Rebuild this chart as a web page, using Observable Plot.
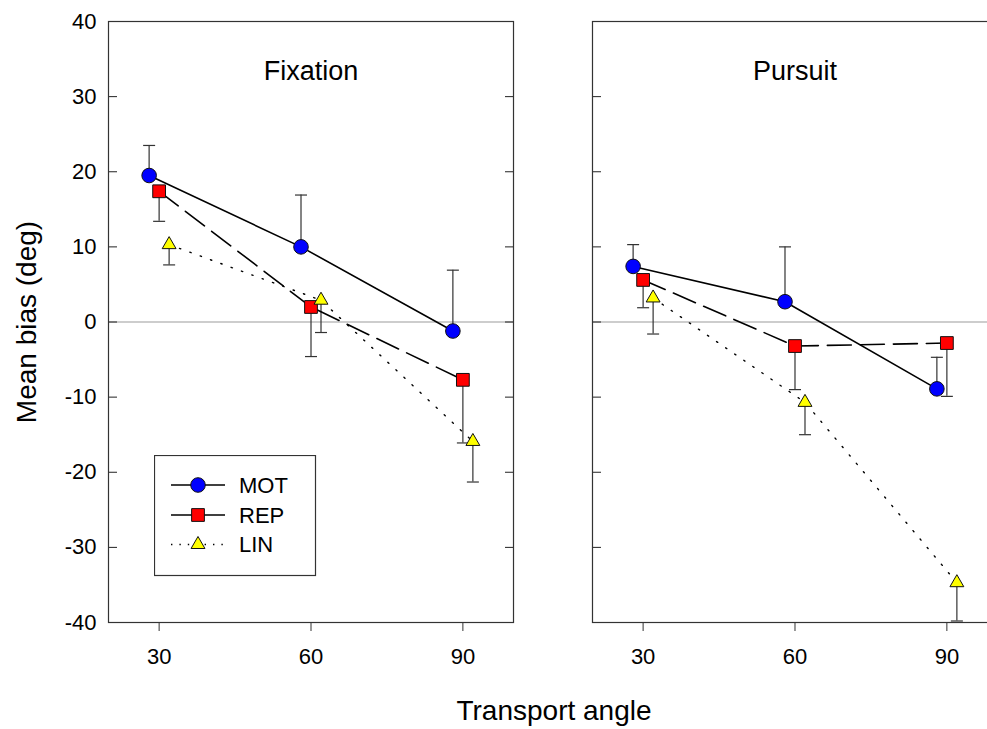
<!DOCTYPE html>
<html><head><meta charset="utf-8">
<script src="https://cdn.jsdelivr.net/npm/d3@7"></script>
<script src="https://cdn.jsdelivr.net/npm/@observablehq/plot@0.6"></script>
<style>
html,body{margin:0;padding:0;background:#fff;overflow:hidden;width:987px;height:729px;}
#wrap{position:relative;width:987px;height:729px;overflow:hidden;font-family:"Liberation Sans",Arial,sans-serif;color:#000;}
#chart{position:absolute;left:0;top:0;width:987px;height:729px;overflow:hidden;}
#chart svg{overflow:hidden !important;}
#xlabel{position:absolute;left:0;width:1108px;top:697px;font-size:28px;line-height:28px;text-align:center;white-space:nowrap;}
#ylabel{position:absolute;left:27px;top:321.5px;transform:translate(-50%,-50%) rotate(-90deg);font-size:28px;line-height:28px;white-space:nowrap;}
#legend{position:absolute;left:154px;top:455px;}
</style></head><body>
<div id="wrap"><div id="chart"></div><div id="xlabel">Transport angle</div><div id="ylabel">Mean bias (deg)</div></div>
<script>
// ---- data ----
const panels = ["Fixation", "Pursuit"];
const series = ["MOT", "REP", "LIN"];
const angles = [30, 60, 90];
const yTicks = [-40, -30, -20, -10, 0, 10, 20, 30, 40];

const fixationMOT = [19.5, 10.0, -1.2];
const fixationREP = [17.4, 2.0, -7.7];
const fixationLIN = [10.3, 2.9, -15.9];
const pursuitMOT  = [7.4, 2.7, -8.9];
const pursuitREP  = [5.6, -3.2, -2.8];
const pursuitLIN  = [3.2, -10.7, -34.7];

// one-sided error bars (MOT drawn upward, REP and LIN downward)
const fixationMOTerr = [4.0, 6.9, 8.1];
const fixationREPerr = [4.0, 6.6, 8.4];
const fixationLINerr = [2.7, 4.3, 5.4];
const pursuitMOTerr  = [2.9, 7.3, 4.2];
const pursuitREPerr  = [3.7, 5.8, 7.1];
const pursuitLINerr  = [4.8, 4.3, 5.1];

const means = {
  Fixation: {MOT: fixationMOT, REP: fixationREP, LIN: fixationLIN},
  Pursuit:  {MOT: pursuitMOT,  REP: pursuitREP,  LIN: pursuitLIN}
};
const errs = {
  Fixation: {MOT: fixationMOTerr, REP: fixationREPerr, LIN: fixationLINerr},
  Pursuit:  {MOT: pursuitMOTerr,  REP: pursuitREPerr,  LIN: pursuitLINerr}
};
const errDir = {MOT: 1, REP: -1, LIN: -1};

// ---- styles ----
const style = {
  MOT: {dx: -10, symbol: "circle", r: 7.3, fill: "#0000ff", dash: null, width: 1.6},
  REP: {dx: 0, symbol: "square", r: 7.2, fill: "#ff0000", dash: "24,9", width: 1.6},
  LIN: {dx: 10, symbol: "triangle", r: 5.15, fill: "#ffff00", dash: "1.4,9.6", width: 1.4}
};

const rows = [];
for (const p of panels) for (const s of series) angles.forEach((a, i) => {
  const m = means[p][s][i];
  rows.push({panel: p, series: s, angle: a, mean: m, end: m + errDir[s] * errs[p][s][i]});
});

const capSymbol = {draw(ctx, size) { const w = Math.sqrt(size / Math.PI); ctx.moveTo(-w, 0); ctx.lineTo(w, 0); }};
const fmt = d => String(d);

const marks = [
  Plot.ruleY([0], {stroke: "#bdbdbd", strokeWidth: 1.5}),
  Plot.axisY({anchor: "left", ticks: yTicks, tickSize: 9, dx: 9, tickFormat: () => "", facetAnchor: null, label: null, stroke: "#222"}),
  Plot.axisY({anchor: "right", ticks: yTicks, tickSize: 9, dx: -9, tickFormat: () => "", facetAnchor: null, label: null, stroke: "#222"}),
  Plot.axisY({anchor: "left", ticks: yTicks, tickSize: 0, tickPadding: 12, tickFormat: fmt, fontSize: 22, label: null}),
  Plot.axisX({anchor: "bottom", ticks: angles, tickSize: 9, tickPadding: 17, tickFormat: fmt, fontSize: 22, label: null, stroke: "#333"}),
  Plot.frame({stroke: "#333", strokeWidth: 1.2}),
  Plot.text(panels, {fx: d => d, text: d => d, frameAnchor: "top", dy: 39, fontSize: 27})
];
for (const s of series) {
  const st = style[s];
  const d = rows.filter(r => r.series === s);
  marks.push(Plot.ruleX(d, {fx: "panel", x: "angle", y1: "mean", y2: "end", dx: st.dx, stroke: "#333", strokeWidth: 1.2}));
  marks.push(Plot.dot(d, {fx: "panel", x: "angle", y: "end", dx: st.dx, symbol: capSymbol, r: 6, stroke: "#333", strokeWidth: 1.2, fill: "none"}));
}
for (const s of series) {
  const st = style[s];
  const d = rows.filter(r => r.series === s);
  marks.push(Plot.line(d, {fx: "panel", x: "angle", y: "mean", dx: st.dx, stroke: "#000", strokeWidth: st.width, strokeDasharray: st.dash}));
}
for (const s of series) {
  const st = style[s];
  const d = rows.filter(r => r.series === s);
  marks.push(Plot.dot(d, {fx: "panel", x: "angle", y: "mean", dx: st.dx, symbol: st.symbol, r: st.r, fill: st.fill, stroke: "#111", strokeWidth: 1}));
}

// the right-hand panel runs past the right edge of the picture, as in the original
const chart = Plot.plot({
  width: 987, height: 729,
  marginLeft: 108, marginRight: -10, marginTop: 21, marginBottom: 107,
  style: {fontFamily: "'Liberation Sans', Arial, sans-serif", fontSize: "22px", color: "#000", background: "#fff", overflow: "hidden"},
  fx: {domain: panels, paddingInner: 0.1632, paddingOuter: 0, round: false, axis: null},
  x: {domain: [20, 100]},
  y: {domain: [-40, 40]},
  marks
});
document.getElementById("chart").appendChild(chart);

// ---- legend ----
const lg = d3.select("#wrap").append("svg").attr("id", "legend").attr("width", 163).attr("height", 122);
lg.append("rect").attr("x", 0.5).attr("y", 0.5).attr("width", 161).attr("height", 120)
  .attr("fill", "#fff").attr("stroke", "#333").attr("stroke-width", 1.2);
const rowY = [30, 60, 89.5];
const symMap = {circle: d3.symbolCircle, square: d3.symbolSquare, triangle: d3.symbolTriangle};
series.forEach((s, i) => {
  const st = style[s];
  const g = lg.append("g").attr("transform", `translate(0,${rowY[i]})`);
  g.append("line").attr("x1", 17).attr("x2", 71).attr("stroke", "#000")
    .attr("stroke-width", st.width).attr("stroke-dasharray", s === "LIN" ? "1.4,7" : null);
  g.append("path").attr("transform", "translate(44,0)")
    .attr("d", d3.symbol(symMap[st.symbol], Math.PI * st.r * st.r)())
    .attr("fill", st.fill).attr("stroke", "#111").attr("stroke-width", 1);
  g.append("text").attr("x", 85).attr("dy", "0.35em").attr("font-size", 22)
    .attr("font-family", "'Liberation Sans', Arial, sans-serif").text(s);
});
</script>
</body></html>
